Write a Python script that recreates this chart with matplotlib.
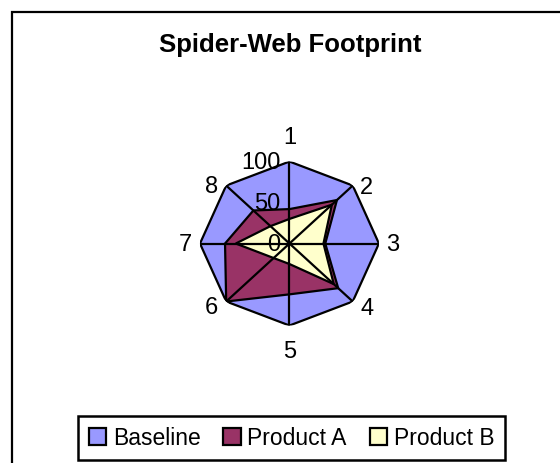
import numpy as np
import matplotlib.pyplot as plt
from matplotlib.patches import Patch, Rectangle

plt.rcParams['font.family'] = ['Liberation Sans', 'DejaVu Sans']

categories = ['1', '2', '3', '4', '5', '6', '7', '8']
baseline = [100, 100, 100, 100, 100, 100, 100, 100]
product_a = [42, 75, 40, 77, 62, 100, 72, 57]
product_b = [30, 67, 38, 70, 25, 25, 60, 30]
scale_ticks = [0, 50, 100]
series_names = ['Baseline', 'Product A', 'Product B']

colors = ['#9999FF', '#993366', '#FFFFCC']


def main():
    fig = plt.figure(figsize=(5.6, 4.64), dpi=100)
    fig.patch.set_facecolor('white')

    # outer chart frame (runs off the right and bottom edges)
    fig.patches.append(Rectangle((12 / 560, -0.1), 1.2, 1.1 - 13 / 464,
                                 transform=fig.transFigure, fill=False,
                                 edgecolor='black', lw=1.6))

    ax = fig.add_axes([0.3571, 0.2963, 0.3196, 0.3534], projection='polar')
    ax.set_aspect('auto')
    ax.set_theta_zero_location('N')
    ax.set_theta_direction(-1)
    ax.set_facecolor('none')
    ax.grid(False)
    ax.spines['polar'].set_visible(False)
    ax.set_xticks([])
    ax.set_yticks([])

    n = len(categories)
    theta = np.arange(n) * 2 * np.pi / n
    tc = np.append(theta, theta[0])

    for vals, col in zip([baseline, product_a, product_b], colors):
        v = np.append(vals, vals[0])
        ax.fill(tc, v, facecolor=col, edgecolor='black', lw=1.6, zorder=2)

    for t in theta:
        ax.plot([t, t], [0, 100], color='black', lw=1.6, zorder=3)

    ax.set_ylim(0, 100)

    # category labels
    offs = [(0, 25), (14, -1), (14, 0), (14, -6), (0, -25), (-15, -5), (-15, 0), (-15, 0)]
    for t, lab, (dx, dy) in zip(theta, categories, offs):
        ax.annotate(lab, xy=(t, 100), xytext=(dx, dy), textcoords='offset pixels',
                    ha='center', va='center', fontsize=17, zorder=5,
                    annotation_clip=False)

    # scale labels along axis 1
    for v in scale_ticks:
        ax.annotate(str(v), xy=(0, v), xytext=(-9, 0), textcoords='offset pixels',
                    ha='right', va='center', fontsize=17, zorder=5,
                    annotation_clip=False)

    fig.text(0.518, 0.903, 'Spider-Web Footprint', ha='center', va='center',
             fontsize=18.5, fontweight='bold')

    handles = [Patch(facecolor=c, edgecolor='black', lw=1.6) for c in colors]
    leg = fig.legend(handles, series_names, ncol=3, loc='center',
                     bbox_to_anchor=(291.5 / 560, 1 - 439 / 464),
                     fontsize=16.5, frameon=True, fancybox=False,
                     handlelength=0.75, handleheight=0.75, handletextpad=0.3,
                     columnspacing=1.0, borderpad=0.45)
    leg.get_frame().set_edgecolor('black')
    leg.get_frame().set_linewidth(1.8)
    leg.get_frame().set_alpha(1)

    plt.savefig('out.png', dpi=100)


if __name__ == '__main__':
    main()
